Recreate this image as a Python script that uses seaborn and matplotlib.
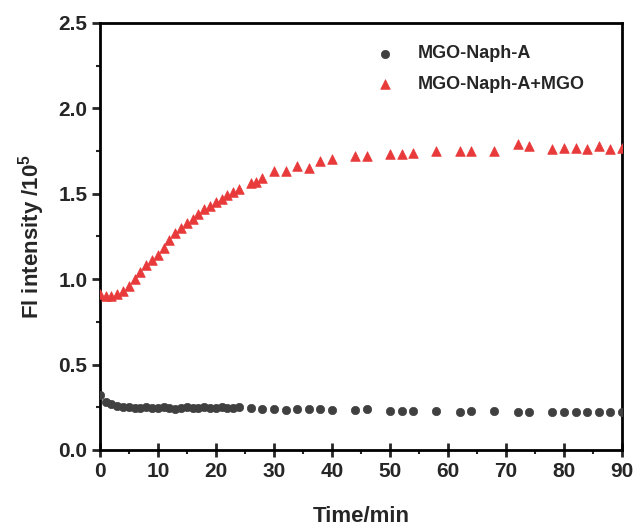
import matplotlib
matplotlib.use("Agg")
import matplotlib.pyplot as plt
import seaborn as sns
import pandas as pd
from matplotlib.ticker import MultipleLocator

# ---- data ----
t_red = [0, 1, 2, 3, 4, 5, 6, 7, 8, 9, 10, 11, 12, 13, 14, 15, 16, 17, 18, 19, 20,
         21, 22, 23, 24, 26, 27, 28, 30, 32, 34, 36, 38, 40, 44, 46, 50, 52, 54, 58,
         62, 64, 68, 72, 74, 78, 80, 82, 84, 86, 88, 90]
fl_red = [0.91, 0.90, 0.90, 0.91, 0.93, 0.96, 1.00, 1.04, 1.08, 1.11, 1.14, 1.18, 1.23,
          1.27, 1.30, 1.33, 1.35, 1.38, 1.41, 1.43, 1.45, 1.47, 1.49, 1.51, 1.53, 1.56,
          1.57, 1.59, 1.63, 1.63, 1.66, 1.65, 1.69, 1.70, 1.72, 1.72, 1.73, 1.73, 1.74,
          1.75, 1.75, 1.75, 1.75, 1.79, 1.78, 1.76, 1.77, 1.77, 1.76, 1.78, 1.76, 1.77]

t_gray = [0, 1, 2, 3, 4, 5, 6, 7, 8, 9, 10, 11, 12, 13, 14, 15, 16, 17, 18, 19, 20,
          21, 22, 23, 24, 26, 28, 30, 32, 34, 36, 38, 40, 44, 46, 50, 52, 54, 58,
          62, 64, 68, 72, 74, 78, 80, 82, 84, 86, 88, 90]
fl_gray = [0.32, 0.28, 0.27, 0.26, 0.25, 0.25, 0.245, 0.245, 0.25, 0.245, 0.245, 0.25,
           0.245, 0.24, 0.245, 0.25, 0.245, 0.245, 0.25, 0.245, 0.245, 0.25, 0.245,
           0.245, 0.25, 0.245, 0.24, 0.24, 0.235, 0.24, 0.24, 0.24, 0.235, 0.235, 0.24,
           0.23, 0.23, 0.23, 0.23, 0.225, 0.23, 0.23, 0.225, 0.225, 0.22, 0.22, 0.22,
           0.225, 0.225, 0.225, 0.225]

labels = ["MGO-Naph-A", "MGO-Naph-A+MGO"]
xticks = [0, 10, 20, 30, 40, 50, 60, 70, 80, 90]
yticks = [0.0, 0.5, 1.0, 1.5, 2.0, 2.5]

df = pd.concat([
    pd.DataFrame({"t": t_gray, "fl": fl_gray, "s": labels[0]}),
    pd.DataFrame({"t": t_red, "fl": fl_red, "s": labels[1]}),
])

sns.set_style("ticks")
plt.rcParams["font.family"] = ["Liberation Sans", "DejaVu Sans"]
plt.rcParams["mathtext.default"] = "regular"

fig = plt.figure(figsize=(6.36, 5.30), dpi=100)
ax = fig.add_axes([0.157, 0.151, 0.821, 0.806])

palette = {labels[0]: "#404040", labels[1]: "#e83a3a"}
markers = {labels[0]: "o", labels[1]: "^"}
sizes = {labels[0]: 36, labels[1]: 48}
for lab in labels:
    sub = df[df["s"] == lab]
    sns.scatterplot(data=sub, x="t", y="fl", color=palette[lab], marker=markers[lab],
                    s=sizes[lab], edgecolor=palette[lab], linewidth=0.5, ax=ax,
                    label=lab, zorder=3)

ax.set_xlim(0, 90)
ax.set_ylim(0, 2.5)
ax.set_xticks(xticks)
ax.set_yticks(yticks)
ax.set_yticklabels([f"{v:.1f}" for v in yticks])
ax.xaxis.set_minor_locator(MultipleLocator(5))
ax.yaxis.set_minor_locator(MultipleLocator(0.25))
for sp in ax.spines.values():
    sp.set_visible(True)
    sp.set_linewidth(2.0)
    sp.set_color("black")
ax.tick_params(axis="x", which="major", direction="inout", length=10, width=2,
               labelsize=15, pad=4)
ax.tick_params(axis="y", which="major", direction="out", length=6, width=2,
               labelsize=15, pad=3)
ax.tick_params(which="minor", direction="out", length=3, width=1.5)
for lbl in ax.get_xticklabels() + ax.get_yticklabels():
    lbl.set_fontweight("bold")

ax.set_xlabel("Time/min", fontsize=16, fontweight="bold", labelpad=18)
ax.set_ylabel(r"Fl intensity /10$^5$", fontsize=16, fontweight="bold", labelpad=8)

leg = ax.legend(loc="upper left", bbox_to_anchor=(0.48, 0.985), frameon=False,
                handletextpad=0.8, labelspacing=0.75,
                prop={"weight": "bold", "size": 13})
ax.grid(False)

fig.savefig("out.png", dpi=100)
